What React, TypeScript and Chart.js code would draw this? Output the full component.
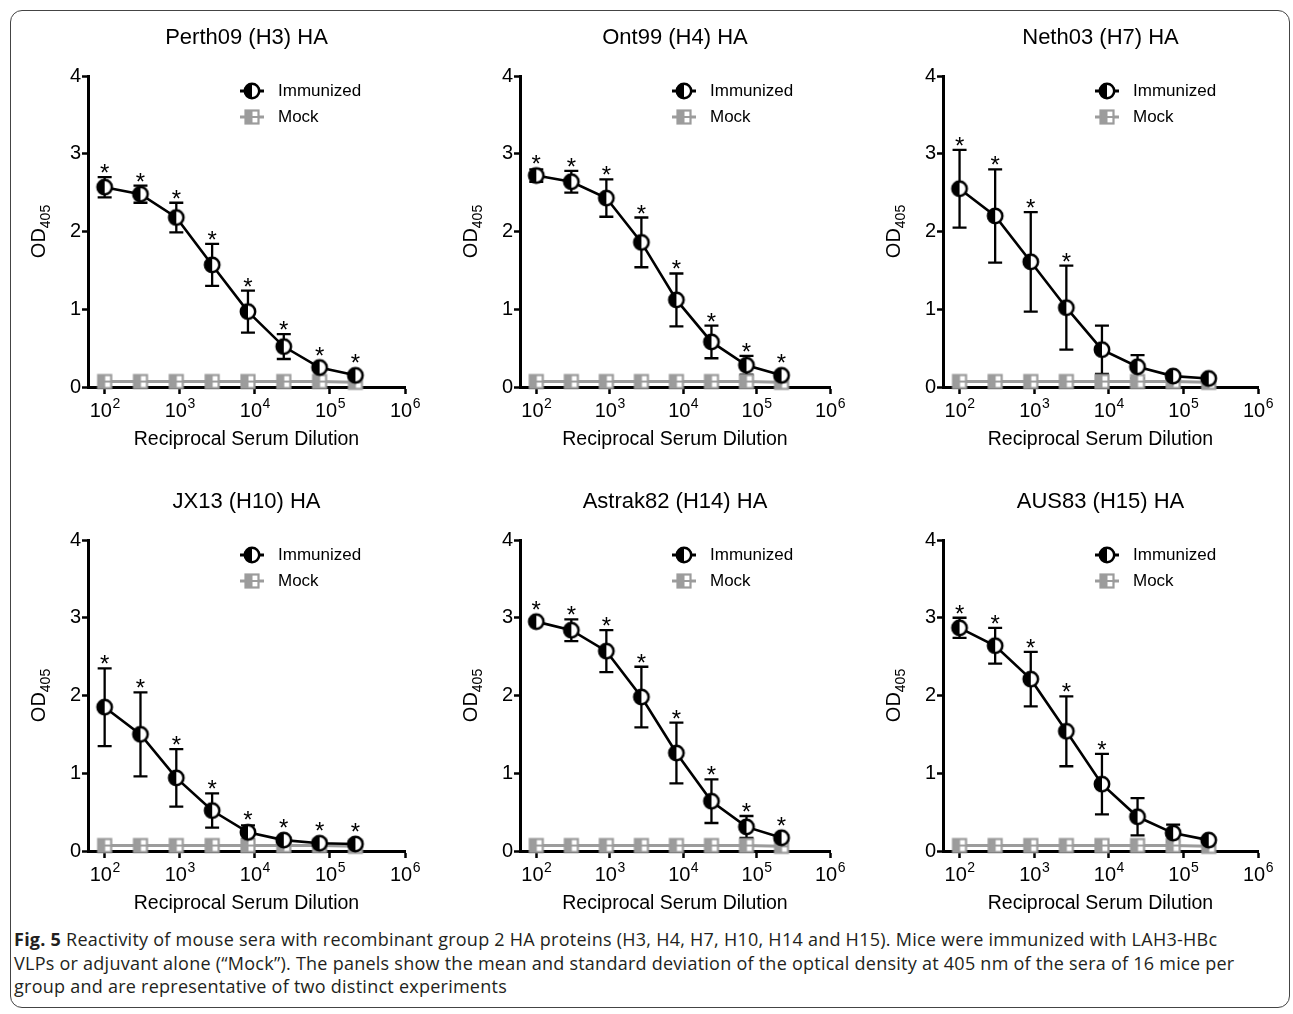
import React, { useEffect, useRef } from "react";
import { Chart, registerables } from "chart.js";

Chart.register(...registerables);

const FONT = "'Liberation Sans', Arial, Helvetica, sans-serif";

// ---------------- data ----------------
const dilutions = [100, 300, 900, 2700, 8100, 24300, 72900, 218700];
const xTickValues = [1e2, 1e3, 1e4, 1e5, 1e6];
const xTickExponents = ["2", "3", "4", "5", "6"];
const yTickValues = [0, 1, 2, 3, 4];
const seriesNames = ["Immunized", "Mock"];

const panelTitles = [
  "Perth09 (H3) HA",
  "Ont99 (H4) HA",
  "Neth03 (H7) HA",
  "JX13 (H10) HA",
  "Astrak82 (H14) HA",
  "AUS83 (H15) HA",
];

const perth09Mean = [2.57, 2.48, 2.18, 1.57, 0.97, 0.52, 0.25, 0.15];
const perth09Sd = [0.13, 0.11, 0.19, 0.27, 0.27, 0.16, 0.03, 0.02];
const perth09Star = [true, true, true, true, true, true, true, true];

const ont99Mean = [2.72, 2.64, 2.43, 1.86, 1.12, 0.58, 0.28, 0.15];
const ont99Sd = [0.08, 0.14, 0.24, 0.32, 0.34, 0.21, 0.12, 0.03];
const ont99Star = [true, true, true, true, true, true, true, true];

const neth03Mean = [2.55, 2.2, 1.61, 1.02, 0.48, 0.26, 0.14, 0.11];
const neth03Sd = [0.5, 0.6, 0.64, 0.54, 0.31, 0.15, 0.04, 0.02];
const neth03Star = [true, true, true, true, false, false, false, false];

const jx13Mean = [1.85, 1.5, 0.94, 0.52, 0.24, 0.14, 0.1, 0.09];
const jx13Sd = [0.5, 0.54, 0.37, 0.22, 0.09, 0.03, 0.02, 0.02];
const jx13Star = [true, true, true, true, true, true, true, true];

const astrak82Mean = [2.95, 2.84, 2.57, 1.98, 1.26, 0.64, 0.31, 0.17];
const astrak82Sd = [0.03, 0.14, 0.27, 0.39, 0.39, 0.28, 0.14, 0.03];
const astrak82Star = [true, true, true, true, true, true, true, true];

const aus83Mean = [2.87, 2.64, 2.21, 1.54, 0.86, 0.44, 0.23, 0.14];
const aus83Sd = [0.13, 0.23, 0.35, 0.45, 0.39, 0.24, 0.11, 0.02];
const aus83Star = [true, true, true, true, true, false, false, false];

const mockMean = [0.07, 0.07, 0.07, 0.07, 0.07, 0.07, 0.07, 0.06];

const xAxisTitle = "Reciprocal Serum Dilution";
const yAxisTitleMain = "OD";
const yAxisTitleSub = "405";

const panelData = [
  { title: panelTitles[0], mean: perth09Mean, sd: perth09Sd, star: perth09Star },
  { title: panelTitles[1], mean: ont99Mean, sd: ont99Sd, star: ont99Star },
  { title: panelTitles[2], mean: neth03Mean, sd: neth03Sd, star: neth03Star },
  { title: panelTitles[3], mean: jx13Mean, sd: jx13Sd, star: jx13Star },
  { title: panelTitles[4], mean: astrak82Mean, sd: astrak82Sd, star: astrak82Star },
  { title: panelTitles[5], mean: aus83Mean, sd: aus83Sd, star: aus83Star },
];

// ---------------- layout (page coordinates) ----------------
const colCanvas = [
  { x: 0, w: 430, areaLeft: 88, areaRight: 405 },
  { x: 430, w: 430, areaLeft: 520, areaRight: 830 },
  { x: 860, w: 433, areaLeft: 943, areaRight: 1258 },
];
const rowCanvas = [
  { y: 0, h: 464, areaTop: 76, areaBottom: 387 },
  { y: 464, h: 460, areaTop: 540, areaBottom: 851 },
];
const Y_AXIS_W = 40;
const X_AXIS_H = 40;
const MOCK_GRAY = "#9c9c9c";

function makeCircleMarker(): HTMLCanvasElement {
  const s = 22;
  const c = document.createElement("canvas");
  c.width = s;
  c.height = s;
  const ctx = c.getContext("2d")!;
  const r = 7.2;
  const cx = s / 2;
  const cy = s / 2;
  ctx.beginPath();
  ctx.arc(cx, cy, r, 0, Math.PI * 2);
  ctx.fillStyle = "#fff";
  ctx.fill();
  ctx.beginPath();
  ctx.moveTo(cx, cy - r);
  ctx.arc(cx, cy, r, -Math.PI / 2, Math.PI / 2, true);
  ctx.closePath();
  ctx.fillStyle = "#000";
  ctx.fill();
  ctx.beginPath();
  ctx.arc(cx, cy, r, 0, Math.PI * 2);
  ctx.lineWidth = 2.5;
  ctx.strokeStyle = "#000";
  ctx.stroke();
  return c;
}

function makeSquareMarker(): HTMLCanvasElement {
  const s = 20;
  const c = document.createElement("canvas");
  c.width = s;
  c.height = s;
  const ctx = c.getContext("2d")!;
  const h = 6.5;
  const cx = s / 2;
  const cy = s / 2;
  ctx.fillStyle = "#fff";
  ctx.fillRect(cx - h, cy - h, 2 * h, 2 * h);
  ctx.fillStyle = MOCK_GRAY;
  ctx.fillRect(cx - h, cy - h, h + 0.5, 2 * h);
  ctx.fillRect(cx, cy - 1, h, 2);
  ctx.lineWidth = 2.2;
  ctx.strokeStyle = MOCK_GRAY;
  ctx.strokeRect(cx - h, cy - h, 2 * h, 2 * h);
  return c;
}

function Panel({ index }: { index: number }) {
  const ref = useRef<HTMLCanvasElement | null>(null);
  const col = colCanvas[index % 3];
  const row = rowCanvas[Math.floor(index / 3)];
  const p = panelData[index];

  useEffect(() => {
    if (!ref.current) return;
    const circle = makeCircleMarker();
    const square = makeSquareMarker();

    const padding = {
      left: col.areaLeft - col.x - Y_AXIS_W,
      right: col.x + col.w - col.areaRight,
      top: row.areaTop - row.y,
      bottom: row.y + row.h - row.areaBottom - X_AXIS_H,
    };

    const decorPlugin = {
      id: "decor",
      beforeDatasetsDraw(chart: any) {
        const ctx = chart.ctx;
        const ys = chart.scales.y;
        const meta = chart.getDatasetMeta(0);
        ctx.save();
        ctx.strokeStyle = "#000";
        ctx.lineWidth = 2.3;
        meta.data.forEach((pt: any, i: number) => {
          const sd = p.sd[i];
          const top = ys.getPixelForValue(p.mean[i] + sd);
          const bot = ys.getPixelForValue(p.mean[i] - sd);
          if (Math.abs(bot - top) < 2) return;
          const cap = 7;
          ctx.beginPath();
          ctx.moveTo(pt.x, top);
          ctx.lineTo(pt.x, bot);
          ctx.moveTo(pt.x - cap, top);
          ctx.lineTo(pt.x + cap, top);
          ctx.moveTo(pt.x - cap, bot);
          ctx.lineTo(pt.x + cap, bot);
          ctx.stroke();
        });
        ctx.restore();
      },
      afterDraw(chart: any) {
        const ctx = chart.ctx;
        const area = chart.chartArea;
        const xs = chart.scales.x;
        const ys = chart.scales.y;
        ctx.save();
        ctx.fillStyle = "#000";

        // title
        ctx.font = `22px ${FONT}`;
        ctx.textAlign = "center";
        ctx.textBaseline = "middle";
        ctx.fillText(p.title, (area.left + area.right) / 2, area.top - 38);

        // x tick labels with superscripts
        xTickValues.forEach((v, i) => {
          const x = xs.getPixelForValue(v);
          ctx.font = `20px ${FONT}`;
          const w1 = ctx.measureText("10").width;
          ctx.font = `14px ${FONT}`;
          const w2 = ctx.measureText(xTickExponents[i]).width;
          const start = x - (w1 + w2) / 2;
          ctx.textAlign = "left";
          ctx.textBaseline = "alphabetic";
          ctx.font = `20px ${FONT}`;
          ctx.fillText("10", start, area.bottom + 30);
          ctx.font = `14px ${FONT}`;
          ctx.fillText(xTickExponents[i], start + w1 + 0.5, area.bottom + 21);
        });

        // x axis title
        ctx.font = `19.5px ${FONT}`;
        ctx.textAlign = "center";
        ctx.textBaseline = "middle";
        ctx.fillText(xAxisTitle, (area.left + area.right) / 2, area.bottom + 53);

        // y axis title (rotated, subscript)
        ctx.save();
        ctx.translate(area.left - 43, (area.top + area.bottom) / 2);
        ctx.rotate(-Math.PI / 2);
        ctx.font = `20px ${FONT}`;
        const wa = ctx.measureText(yAxisTitleMain).width;
        ctx.font = `14px ${FONT}`;
        const wb = ctx.measureText(yAxisTitleSub).width;
        ctx.textAlign = "left";
        ctx.textBaseline = "alphabetic";
        ctx.font = `20px ${FONT}`;
        ctx.fillText(yAxisTitleMain, -(wa + wb) / 2, 0);
        ctx.font = `14px ${FONT}`;
        ctx.fillText(yAxisTitleSub, -(wa + wb) / 2 + wa, 5);
        ctx.restore();

        // legend
        const legendItems = [
          { name: seriesNames[0], color: "#000", marker: circle, lw: 3 },
          { name: seriesNames[1], color: MOCK_GRAY, marker: square, lw: 3 },
        ];
        legendItems.forEach((it, i) => {
          const mx = area.left + 164;
          const my = area.top + 15 + i * 26;
          ctx.strokeStyle = it.color;
          ctx.lineWidth = it.lw;
          ctx.beginPath();
          ctx.moveTo(mx - 12, my);
          ctx.lineTo(mx + 12, my);
          ctx.stroke();
          ctx.drawImage(it.marker, mx - it.marker.width / 2, my - it.marker.height / 2);
          ctx.fillStyle = "#000";
          ctx.font = `17px ${FONT}`;
          ctx.textAlign = "left";
          ctx.textBaseline = "middle";
          ctx.fillText(it.name, area.left + 190, my);
        });

        // significance asterisks
        const meta = chart.getDatasetMeta(0);
        ctx.font = `24px ${FONT}`;
        ctx.textAlign = "center";
        ctx.textBaseline = "alphabetic";
        ctx.fillStyle = "#000";
        meta.data.forEach((pt: any, i: number) => {
          if (!p.star[i]) return;
          const top = ys.getPixelForValue(p.mean[i] + p.sd[i]);
          const base = Math.min(top, pt.y - 8);
          ctx.fillText("*", pt.x, base + 4);
        });
        ctx.restore();
      },
    };

    const chart = new Chart(ref.current, {
      type: "line",
      data: {
        datasets: [
          {
            label: seriesNames[0],
            data: dilutions.map((x, i) => ({ x, y: p.mean[i] })),
            borderColor: "#000",
            borderWidth: 2.6,
            pointStyle: circle as any,
            pointRadius: 7,
            tension: 0,
            clip: false as any,
            order: 0,
          },
          {
            label: seriesNames[1],
            data: dilutions.map((x, i) => ({ x, y: mockMean[i] })),
            borderColor: MOCK_GRAY,
            borderWidth: 3,
            pointStyle: square as any,
            pointRadius: 6,
            tension: 0,
            clip: false as any,
            order: 1,
          },
        ],
      },
      options: {
        animation: false,
        responsive: false,
        maintainAspectRatio: false,
        events: [],
        layout: { padding },
        plugins: {
          legend: { display: false },
          title: { display: false },
          tooltip: { enabled: false },
        },
        scales: {
          x: {
            type: "logarithmic",
            min: 60,
            max: 1e6,
            afterBuildTicks: (s: any) => {
              s.ticks = xTickValues.map((value) => ({ value }));
            },
            afterFit: (s: any) => {
              s.height = X_AXIS_H;
            },
            ticks: { display: false },
            grid: {
              display: true,
              drawOnChartArea: false,
              drawTicks: true,
              tickLength: 7,
              tickWidth: 2.5,
              tickColor: "#000",
            },
            border: { display: true, color: "#000", width: 3 },
          },
          y: {
            type: "linear",
            min: 0,
            max: 4,
            afterBuildTicks: (s: any) => {
              s.ticks = yTickValues.map((value) => ({ value }));
            },
            afterFit: (s: any) => {
              s.width = Y_AXIS_W;
            },
            ticks: {
              color: "#000",
              font: { size: 20, family: FONT },
              padding: 1,
            },
            grid: {
              display: true,
              drawOnChartArea: false,
              drawTicks: true,
              tickLength: 6,
              tickWidth: 2.5,
              tickColor: "#000",
            },
            border: { display: true, color: "#000", width: 3 },
          },
        },
      } as any,
      plugins: [decorPlugin],
    });
    return () => chart.destroy();
  }, []);

  return (
    <canvas
      ref={ref}
      width={col.w}
      height={row.h}
      style={{
        position: "absolute",
        left: col.x,
        top: row.y,
        width: col.w,
        height: row.h,
      }}
    />
  );
}

export default function App() {
  return (
    <div
      style={{
        position: "fixed",
        left: 0,
        top: 0,
        width: 1293,
        height: 1014,
        background: "#fff",
        overflow: "hidden",
      }}
    >
      <div
        style={{
          position: "absolute",
          left: 10,
          top: 10,
          width: 1278,
          height: 996,
          border: "1.5px solid #444",
          borderRadius: 12,
        }}
      />
      {[0, 1, 2, 3, 4, 5].map((i) => (
        <Panel key={i} index={i} />
      ))}
      <div
        style={{
          position: "absolute",
          left: 14,
          top: 928,
          fontFamily: "'Open Sans', 'Noto Sans', sans-serif",
          fontSize: 18,
          letterSpacing: "0.25px",
          lineHeight: "23.5px",
          color: "#231f20",
          whiteSpace: "nowrap",
        }}
      >
        <b>Fig. 5</b> Reactivity of mouse sera with recombinant group 2 HA proteins (H3, H4, H7, H10, H14 and H15). Mice were immunized with LAH3-HBc
        <br />
        VLPs or adjuvant alone (“Mock”). The panels show the mean and standard deviation of the optical density at 405 nm of the sera of 16 mice per
        <br />
        group and are representative of two distinct experiments
      </div>
    </div>
  );
}
